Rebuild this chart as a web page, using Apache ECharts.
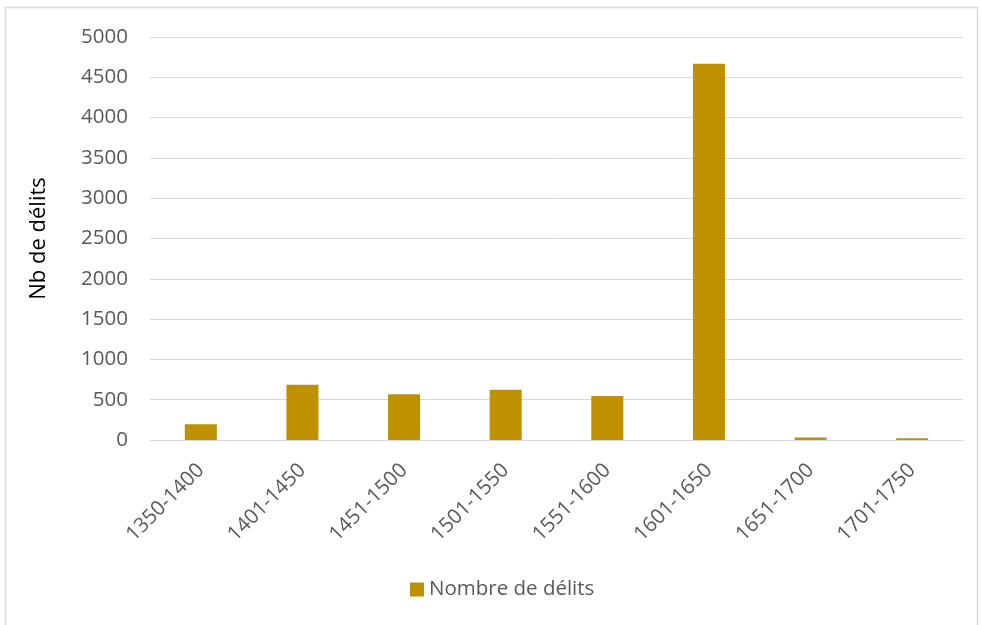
<!DOCTYPE html>
<html>
<head>
<meta charset="utf-8">
<script src="https://cdn.jsdelivr.net/npm/echarts@6/dist/echarts.min.js"></script>
<style>html,body{margin:0;padding:0;background:#fff;}#c{width:981px;height:625px;}</style>
</head>
<body>
<div id="c"></div>
<script>
const categories = ['1350-1400','1401-1450','1451-1500','1501-1550','1551-1600','1601-1650','1651-1700','1701-1750'];
const delits = [195, 687, 567, 625, 546, 4669, 30, 21];
const yTicks = [0, 500, 1000, 1500, 2000, 2500, 3000, 3500, 4000, 4500, 5000];
const seriesName = 'Nombre de délits';
const yTitle = 'Nb de délits';

const FONT = '"Open Sans", sans-serif';
const chart = echarts.init(document.getElementById('c'), null, {renderer: 'canvas'});
chart.setOption({
  animation: false,
  backgroundColor: '#ffffff',
  textStyle: {fontFamily: FONT},
  graphic: [{
    type: 'rect', silent: true, z: -1,
    shape: {x: 5.5, y: 7.5, width: 972, height: 650},
    style: {fill: 'none', stroke: '#d9d9d9', lineWidth: 1.5}
  }],
  grid: {left: 150, right: 18, top: 37, bottom: 185},
  legend: {
    data: [seriesName], bottom: 20, left: 405,
    icon: 'rect', itemWidth: 14, itemHeight: 14, itemGap: 5,
    textStyle: {color: '#595959', fontSize: 20.5, fontFamily: FONT}
  },
  xAxis: {
    type: 'category', data: categories,
    axisLine: {lineStyle: {color: '#d9d9d9', width: 1}},
    axisTick: {show: false},
    axisLabel: {rotate: 45, color: '#595959', fontSize: 20.5, fontFamily: FONT, margin: 27, interval: 0}
  },
  yAxis: {
    type: 'value', min: yTicks[0], max: yTicks[yTicks.length - 1], interval: 500,
    name: yTitle, nameLocation: 'middle', nameGap: 100, nameRotate: 90,
    nameTextStyle: {color: '#000000', fontSize: 22, fontFamily: FONT},
    axisLine: {show: false}, axisTick: {show: false},
    axisLabel: {color: '#595959', fontSize: 20.5, fontFamily: FONT, margin: 22,
      formatter: function (v) { return String(v); }},
    splitLine: {lineStyle: {color: '#d9d9d9', width: 1}}
  },
  series: [{
    name: seriesName, type: 'bar', data: delits, barWidth: '31.5%',
    itemStyle: {color: '#BF9000'}
  }]
});
</script>
</body>
</html>
